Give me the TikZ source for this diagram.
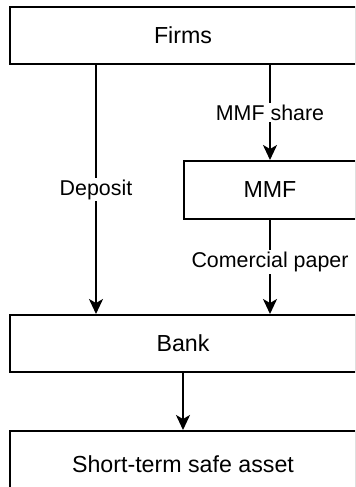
\documentclass[tikz,border=0pt]{standalone}
\usepackage{fontspec}
\setmainfont{Liberation Sans}
\usetikzlibrary{arrows.meta}

\tikzset{
  box/.style={draw, line width=1pt, minimum width=173pt, minimum height=28.5pt,
    inner sep=0pt, font=\fontsize{11.6}{13}\selectfont},
  flow/.style={line width=1pt, -{Stealth[length=7.5pt, width=7pt, inset=2pt]}},
  lbl/.style={fill=white, inner sep=1pt, font=\fontsize{10.7}{12}\selectfont}
}

\begin{document}
\begin{tikzpicture}[x=0.5pt, y=-0.5pt]
\useasboundingbox (0,0) rectangle (355,487);
\clip (0,0) rectangle (355,487);
\node[box] (firms) at (183,35.5) {Firms};
\node[box, minimum width=86pt, minimum height=29pt] (mmf) at (270,190) {MMF};
\node[box] (bank) at (183,343.5) {Bank};
\node[box, minimum height=33pt] (safe) at (183,464) {Short-term safe asset};
\draw[flow] ([xshift=43.5pt]firms.south west) -- ([xshift=43.5pt]bank.north west)
  node[lbl, midway] {Deposit};
\draw[flow] (firms.south -| mmf.north) -- (mmf.north) node[lbl, midway] {MMF share};
\draw[flow] (mmf.south) -- (bank.north -| mmf.south) node[lbl, pos=0.45] {Comercial paper};
\draw[flow] (bank.south) -- (safe.north);
\end{tikzpicture}
\end{document}
